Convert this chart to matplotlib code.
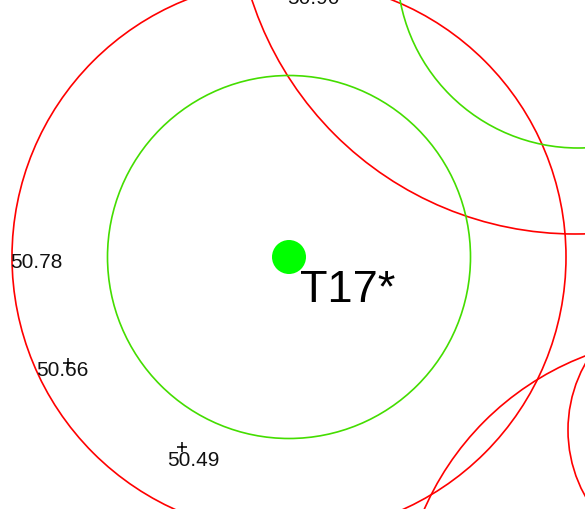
import matplotlib
matplotlib.use("Agg")
import matplotlib.pyplot as plt
from matplotlib.patches import Circle

# ---- data (map coordinates, y grows downward) ----
station_name = ["T17*"]
station_x = [289]
station_y = [257]

red_x = [289, 575, 688, 704]
red_y = [257, -106, 625, 430]
red_r = [277, 340, 288, 136]

green_x = [289, 578]
green_y = [257, -33]
green_r = [181.5, 181]

label_text = ["50.90", "50.78", "50.66", "50.49"]
label_x = [313, 36, 62, 193]
label_y = [-2, 263, 370, 461]

cross_x = [68, 182]
cross_y = [363, 447]

W, H = 585, 509
fig = plt.figure(figsize=(W / 100, H / 100), dpi=100)
ax = fig.add_axes([0, 0, 1, 1])
ax.set_xlim(0, W)
ax.set_ylim(H, 0)
ax.axis("off")

for x, y, r in zip(red_x, red_y, red_r):
    ax.add_patch(Circle((x, y), r, fill=False, edgecolor="#ff0000", linewidth=1.2))
for x, y, r in zip(green_x, green_y, green_r):
    ax.add_patch(Circle((x, y), r, fill=False, edgecolor="#44dd00", linewidth=1.2))

ax.plot(cross_x, cross_y, linestyle="none", marker="+", color="black",
        markersize=7, markeredgewidth=1.1)

for t, x, y in zip(label_text, label_x, label_y):
    ax.text(x, y, t, fontsize=15, family="Liberation Sans", ha="center",
            va="center", color="#111111")

for n, x, y in zip(station_name, station_x, station_y):
    ax.add_patch(Circle((x, y), 17, facecolor="#00ff00", edgecolor="none", zorder=5))
    ax.text(x + 11, y + 45, n, fontsize=32.5, family="Liberation Sans",
            ha="left", va="baseline", color="black", zorder=6)

fig.savefig("out.png", dpi=100)
